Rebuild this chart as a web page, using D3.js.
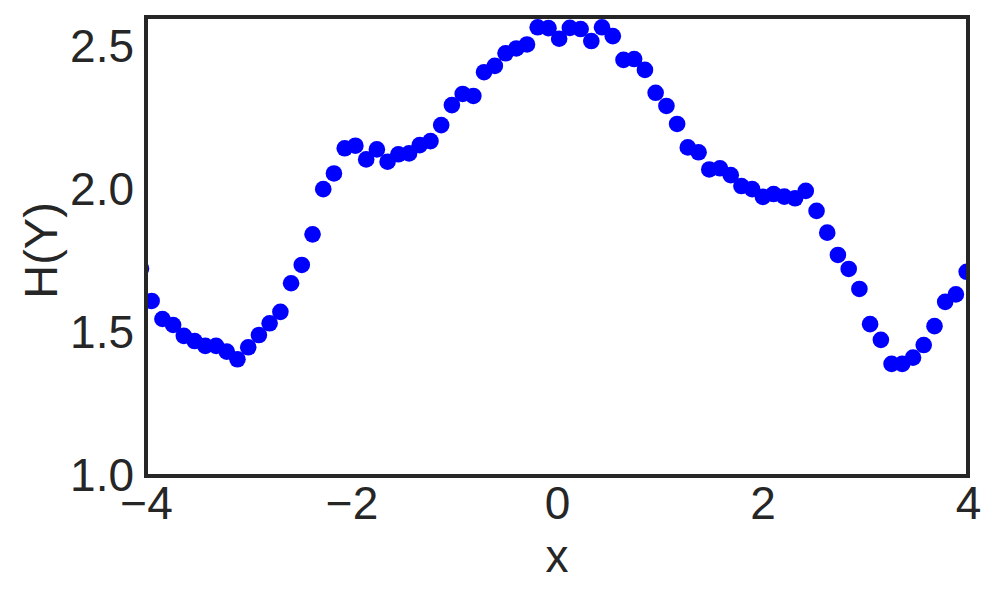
<!DOCTYPE html>
<html>
<head>
<meta charset="utf-8">
<script src="https://cdn.jsdelivr.net/npm/d3@7"></script>
<style>
  html, body { margin: 0; padding: 0; background: #fff; }
  svg { display: block; }
  text { font-family: "Liberation Sans", Arial, sans-serif; fill: #262626; }
</style>
</head>
<body>
<div id="chart"></div>
<script>
const xValues = [-4.049, -3.945, -3.840, -3.736, -3.632, -3.527, -3.423, -3.318, -3.214, -3.110,
  -3.005, -2.901, -2.797, -2.692, -2.588, -2.484, -2.379, -2.275, -2.171, -2.066,
  -1.962, -1.857, -1.753, -1.649, -1.544, -1.440, -1.336, -1.231, -1.127, -1.023,
  -0.918, -0.814, -0.710, -0.605, -0.501, -0.396, -0.292, -0.188, -0.083, 0.021,
  0.125, 0.230, 0.334, 0.438, 0.543, 0.647, 0.751, 0.856, 0.960, 1.065,
  1.169, 1.273, 1.378, 1.482, 1.586, 1.691, 1.795, 1.899, 2.004, 2.108,
  2.212, 2.317, 2.421, 2.526, 2.630, 2.734, 2.839, 2.943, 3.047, 3.152,
  3.256, 3.360, 3.465, 3.569, 3.674, 3.778, 3.882, 3.987];
const hValues = [1.726, 1.612, 1.549, 1.528, 1.490, 1.472, 1.455, 1.455, 1.435, 1.408,
  1.450, 1.493, 1.534, 1.574, 1.674, 1.738, 1.845, 2.003, 2.058, 2.146,
  2.155, 2.107, 2.142, 2.099, 2.125, 2.128, 2.157, 2.171, 2.227, 2.297,
  2.336, 2.329, 2.412, 2.434, 2.478, 2.495, 2.509, 2.569, 2.566, 2.529,
  2.567, 2.563, 2.521, 2.569, 2.538, 2.455, 2.458, 2.420, 2.340, 2.294,
  2.231, 2.149, 2.132, 2.072, 2.076, 2.052, 2.014, 2.003, 1.976, 1.986,
  1.977, 1.971, 1.997, 1.927, 1.851, 1.773, 1.724, 1.654, 1.531, 1.476,
  1.392, 1.392, 1.414, 1.458, 1.524, 1.609, 1.635, 1.714];
const xTicks = [-4, -2, 0, 2, 4];
const yTicks = [1.0, 1.5, 2.0, 2.5];
const xDomain = [-4, 4];
const yDomain = [1.0, 2.605];
const xLabel = "x";
const yLabel = "H(Y)";

const W = 1000, H = 600;
const m = { left: 146, right: 32, top: 17, bottom: 124 };
const pw = W - m.left - m.right, ph = H - m.top - m.bottom;

const svg = d3.select("#chart").append("svg").attr("width", W).attr("height", H);
const x = d3.scaleLinear().domain(xDomain).range([0, pw]);
const y = d3.scaleLinear().domain(yDomain).range([ph, 0]);

const g = svg.append("g").attr("transform", `translate(${m.left},${m.top})`);

svg.append("defs").append("clipPath").attr("id", "clip")
  .append("rect").attr("width", pw).attr("height", ph);

const data = xValues.map((v, i) => ({ x: v, h: hValues[i] }));
g.append("g").attr("clip-path", "url(#clip)")
  .selectAll("circle").data(data).enter().append("circle")
  .attr("cx", d => x(d.x)).attr("cy", d => y(d.h)).attr("r", 8.3)
  .attr("fill", "#0000ff");

const fmtX = d => d < 0 ? "\u2212" + Math.abs(d) : String(d);
const xAxis = d3.axisBottom(x).tickValues(xTicks).tickSize(0).tickPadding(10).tickFormat(fmtX);
const yAxis = d3.axisLeft(y).tickValues(yTicks).tickSize(0).tickPadding(12).tickFormat(d3.format(".1f"));

const gx = g.append("g").attr("transform", `translate(0,${ph})`).call(xAxis);
const gy = g.append("g").call(yAxis);
[gx, gy].forEach(a => {
  a.select(".domain").remove();
  a.selectAll("text").style("font-size", "46px").attr("fill", "#262626")
    .style("font-family", "'Liberation Sans', Arial, sans-serif");
});

// frame
g.append("rect").attr("width", pw).attr("height", ph)
  .attr("fill", "none").attr("stroke", "#262626").attr("stroke-width", 4);

svg.append("text").attr("x", m.left + pw / 2).attr("y", 572)
  .attr("text-anchor", "middle").style("font-size", "46px").text(xLabel);
svg.append("text").attr("transform", `translate(57,${m.top + ph / 2 + 4}) rotate(-90)`)
  .attr("text-anchor", "middle").style("font-size", "47px").text(yLabel);
</script>
</body>
</html>
